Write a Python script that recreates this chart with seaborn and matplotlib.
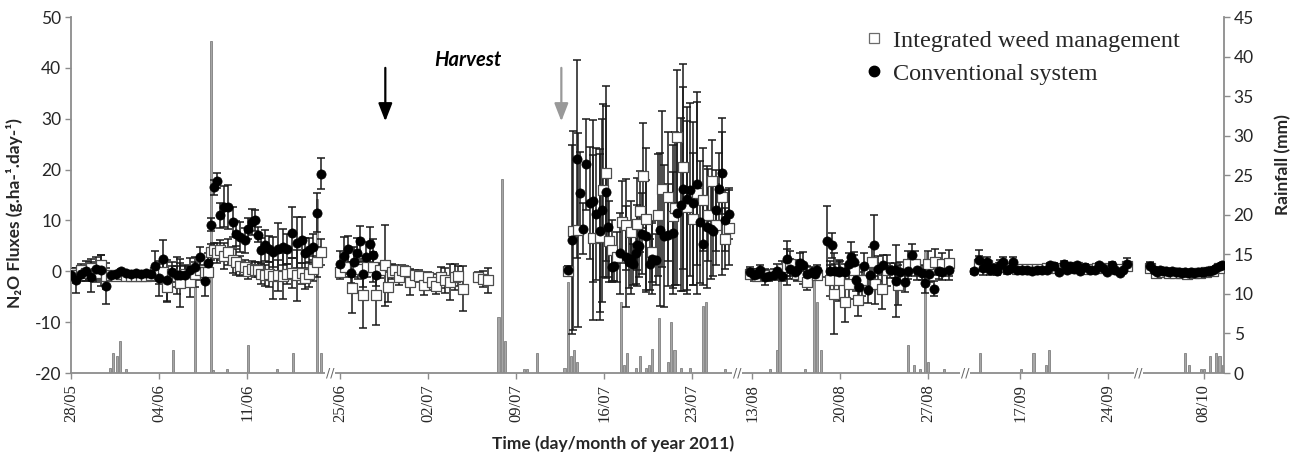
import numpy as np
import pandas as pd
import matplotlib
matplotlib.use("Agg")
import matplotlib.pyplot as plt
from matplotlib.lines import Line2D
import seaborn as sns

# ---------------- data (days are real days since 28 May 2011) ----------------
# broken time axis: first real day of each segment and its position on the axis
seg_real_start = [0.0, 27.2, 75.8, 107.6, 127.8]
seg_axis_start = [0.0, 20.6, 53.0, 71.1, 84.9]

tick_days = [0, 7, 14, 28, 35, 42, 49, 56, 77, 84, 91, 112, 119, 133]
tick_labels = ["28/05", "04/06", "11/06", "25/06", "02/07", "09/07", "16/07",
               "23/07", "13/08", "20/08", "27/08", "17/09", "24/09", "08/10"]

conv_day = [
    0.0, 0.4, 0.8, 1.2, 1.6, 2.0, 2.4, 2.8, 3.2, 3.6, 4.0, 4.4, 4.8, 5.2, 5.6, 6.0, 6.4, 6.7, 7.0, 7.3,
    7.6, 8.0, 8.4, 8.7, 9.1, 9.5, 9.9, 10.3, 10.65, 10.9, 11.1, 11.35, 11.6, 11.85, 12.2, 12.5, 12.85,
    13.1, 13.45, 13.85, 14.05, 14.4, 14.65, 14.85, 15.1, 15.45, 15.75, 16.1, 16.45, 16.85, 17.2, 17.6,
    17.95, 18.35, 18.6, 18.95, 19.25, 19.6, 19.85,
    28.0, 28.3, 28.6, 28.85, 29.1, 29.35, 29.6, 29.85, 30.1, 30.35, 30.6, 30.85,
    46.1, 46.45, 46.85, 47.1, 47.35, 47.55, 47.9, 48.1, 48.35, 48.65, 48.85, 49.15, 49.35, 49.6, 49.8,
    50.3, 50.75, 50.95, 51.15, 51.3, 51.55, 51.65, 51.8, 52.0, 52.35, 52.65, 52.8, 53.1, 53.45, 53.8,
    54.1, 54.45, 54.8, 55.1, 55.3, 55.6, 55.85, 56.05, 56.4, 56.65, 56.85, 57.2, 57.5, 57.7, 57.9,
    58.1, 58.4, 58.65, 58.9,
    76.8, 77.1, 77.35, 77.6, 78.0, 78.3, 78.7, 78.95, 79.35, 79.75, 80.0, 80.35, 80.55, 80.8, 81.05,
    81.35, 81.7, 82.0, 82.1, 82.9, 83.2, 83.3, 83.6, 83.85, 84.0, 84.4, 84.65, 84.8, 85.05, 85.2,
    85.45, 85.85, 86.2, 86.35, 86.65, 87.0, 87.4, 87.9, 88.3, 88.45, 88.75, 89.15, 89.4, 89.7, 90.1,
    90.5, 90.7, 91.05, 91.4, 91.8, 92.05, 92.6,
    108.3, 108.75, 109.0, 109.35, 109.6, 109.85, 110.15, 110.35, 110.65, 110.95, 111.25, 111.45,
    111.75, 112.15, 112.5, 112.9, 113.3, 113.7, 114.1, 114.4, 114.7, 115.05, 115.45, 115.7, 115.95,
    116.25, 116.5, 116.75, 117.15, 117.55, 117.95, 118.3, 118.55, 118.9, 119.3, 119.55, 119.9, 120.2,
    120.5,
    128.7, 129.0, 129.25, 129.5, 129.75, 130.0, 130.25, 130.5, 130.75, 131.0, 131.25, 131.5, 131.75,
    132.0, 132.25, 132.5, 132.75, 133.0, 133.25, 133.5, 133.75, 134.0, 134.25, 134.45,
]
conv_flux = [
    -0.8, -1.8, -0.5, 0.1, -1.1, 0.4, 0.2, -2.9, -0.8, -0.5, 0.1, -0.3, -0.5, -0.4, -0.5, -0.4, -0.6,
    1.0, -1.4, 2.5, -1.8, -0.1, -0.8, -0.8, -0.8, 0.2, 0.8, 2.8, -1.9, 1.6, 9.2, 16.5, 17.8, 11.0,
    12.7, 12.6, 9.7, 7.4, 6.7, 6.1, 8.4, 9.7, 10.0, 7.2, 4.1, 5.1, 4.4, 3.8, 4.4, 4.8, 4.4, 7.6, 5.6,
    6.1, 3.5, 4.1, 4.8, 11.5, 19.2,
    1.5, 3.1, 4.4, -0.3, 1.8, 3.5, 6.0, -0.5, 2.8, 5.3, 3.3, -0.8,
    0.2, 6.2, 22.1, 15.4, 8.4, 21.0, 13.5, 13.8, 11.2, 8.0, 12.0, 15.6, 8.8, 0.8, 1.0, 3.5, 2.9, 1.8,
    2.5, 1.4, 3.5, 5.1, 4.9, 7.4, 6.9, 1.4, 2.5, 2.3, 8.2, 6.9, 7.2, 7.5, 11.4, 13.1, 16.2, 14.3,
    16.0, 13.4, 17.2, 9.7, 5.4, 8.7, 8.4, 8.0, 12.0, 16.2, 19.3, 10.0, 11.3,
    -0.1, -0.8, -0.5, 0.3, -1.1, -0.9, -0.7, 0.0, -0.9, 2.5, 0.5, -0.1, 0.2, 1.6, 1.2, -0.5, -0.1,
    -0.5, 0.2, 5.9, 0.0, 5.1, 0.0, -0.1, 0.0, -0.1, 1.5, 2.8, 1.8, -1.8, -3.1, 1.0, -3.7, -0.8, 5.1,
    0.5, 1.2, 0.2, 0.2, -1.9, -0.1, -2.1, 0.0, 3.3, 0.2, -0.3, -2.3, -0.6, -3.4, 0.0, -0.2, 0.3,
    0.0, 2.2, 0.7, 1.8, 0.3, 0.7, 0.1, 1.3, 1.8, 0.3, 0.7, 1.8, 0.2, 0.3, 0.2, 0.1, 0.2, 0.3, 0.3,
    1.2, 1.1, -0.1, 1.5, 0.3, 1.0, 0.5, 1.2, 0.1, 0.9, 0.2, 0.3, 1.2, 0.7, -0.1, 1.2, 0.3, -0.3, 0.2,
    1.5,
    1.0, 0.3, -0.1, 0.2, 0.0, 0.1, -0.1, 0.0, -0.2, -0.1, -0.3, -0.2, -0.3, -0.2, -0.3, -0.2, -0.1,
    -0.2, 0.0, 0.1, 0.3, 0.6, 1.0, 1.2,
]
conv_err = [
    1.2, 2.5, 1.5, 2.0, 3.0, 2.5, 3.0, 3.5, 0.5, 0.4, 0.3, 0.3, 0.3, 0.3, 0.3, 0.3, 0.4, 3.0, 3.5,
    3.6, 4.0, 2.0, 3.7, 2.5, 2.0, 2.5, 2.0, 2.0, 3.0, 2.0, 1.2, 1.5, 1.5, 2.5, 4.0, 4.3, 3.0, 2.5,
    3.0, 2.5, 2.0, 2.5, 2.0, 1.5, 2.5, 3.0, 2.5, 3.0, 5.0, 3.5, 3.0, 5.0, 5.0, 4.5, 3.0, 2.5, 2.5,
    3.8, 3.0,
    2.5, 3.6, 2.5, 2.0, 3.0, 3.0, 3.0, 2.5, 3.0, 3.5, 3.0, 2.0,
    0.8, 18.6, 19.4, 8.0, 5.0, 9.0, 11.0, 16.0, 13.0, 16.0, 18.0, 17.0, 10.0, 3.0, 3.0, 8.0, 10.0,
    5.0, 7.0, 4.0, 6.0, 8.0, 6.0, 8.0, 11.0, 5.0, 7.0, 5.0, 15.0, 14.0, 10.0, 12.0, 14.0, 17.0, 20.0,
    18.0, 17.0, 16.0, 16.0, 12.0, 8.0, 12.0, 10.0, 9.0, 8.0, 7.0, 8.0, 6.0, 5.0,
    1.0, 1.2, 1.0, 1.0, 1.5, 1.0, 1.0, 1.5, 1.0, 3.5, 2.0, 1.5, 2.0, 2.0, 2.5, 1.5, 1.0, 1.0, 1.0,
    7.0, 2.0, 2.5, 1.5, 2.0, 2.0, 1.5, 2.0, 3.0, 2.0, 2.0, 3.0, 2.5, 2.5, 2.0, 6.0, 2.5, 2.0, 1.5,
    1.5, 7.0, 2.0, 2.0, 1.5, 2.0, 2.0, 1.5, 2.0, 1.5, 1.5, 1.5, 1.5, 2.0,
    0.5, 2.0, 1.5, 1.0, 1.0, 0.8, 0.8, 1.0, 1.0, 0.8, 0.8, 1.0, 0.5, 0.4, 0.4, 0.4, 0.4, 0.4, 0.4,
    0.5, 0.5, 0.5, 0.6, 0.5, 0.5, 0.5, 0.5, 0.5, 0.6, 0.5, 0.5, 0.5, 0.5, 0.5, 0.6, 0.5, 0.5, 0.5,
    1.2,
    0.8, 0.5, 0.5, 0.4, 0.4, 0.4, 0.3, 0.3, 0.3, 0.3, 0.3, 0.3, 0.3, 0.3, 0.3, 0.3, 0.3, 0.3, 0.3,
    0.3, 0.4, 0.4, 0.5, 0.5,
]

iwm_day = [
    0.0, 0.4, 0.8, 1.2, 1.6, 2.0, 2.4, 2.8, 3.2, 3.6, 4.0, 4.4, 4.8, 5.2, 5.6, 6.0, 6.4, 6.7, 7.0, 7.3,
    7.6, 8.0, 8.4, 8.7, 9.1, 9.5, 9.9, 10.3, 10.65, 10.9, 11.1, 11.35, 11.6, 11.85, 12.2, 12.5, 12.85,
    13.1, 13.45, 13.85, 14.05, 14.4, 14.65, 14.85, 15.1, 15.45, 15.75, 16.1, 16.45, 16.85, 17.2, 17.6,
    17.95, 18.35, 18.6, 18.95, 19.25, 19.6, 19.85,
    28.0, 28.4, 28.95, 29.45, 29.8, 30.15, 30.6, 30.85, 31.2, 31.6, 31.85, 32.1, 32.4, 32.65, 32.9,
    33.2, 33.6, 33.95, 34.25, 34.65, 35.0, 35.3, 35.65, 36.0, 36.35, 36.75, 37.15, 37.4, 37.8, 39.0,
    39.4, 39.8,
    46.1, 46.55, 46.9, 48.1, 48.65, 48.95, 49.15, 49.4, 49.6, 50.0, 50.4, 50.75, 51.15, 51.65, 51.85,
    52.1, 52.35, 52.8, 53.3, 53.6, 54.1, 54.45, 54.6, 54.8, 55.3, 55.6, 56.05, 56.4, 56.9, 57.3,
    57.55, 57.9, 58.4, 58.65, 58.9,
    76.8, 77.35, 78.0, 78.7, 79.35, 79.75, 80.0, 80.55, 81.05, 81.35, 82.1, 83.2, 83.5, 83.85, 84.4,
    84.65, 85.05, 85.4, 85.7, 86.5, 86.75, 87.3, 87.7, 88.6, 89.4, 89.95, 91.0, 91.55, 92.05, 92.6,
    108.75, 109.35, 110.35, 111.0, 111.75, 112.5, 113.3, 114.1, 114.9, 115.7, 116.5, 117.3, 118.1,
    118.9, 119.7, 120.5,
    128.7, 129.2, 129.7, 130.2, 130.7, 131.2, 131.7, 132.2, 132.7, 133.2, 133.7, 134.2,
]
iwm_flux = [
    -0.3, -0.8, 0.3, -0.4, 0.6, -0.3, 1.2, -0.9, -0.7, -0.9, -0.6, -0.9, -1.0, -1.0, -0.9, -1.0, -0.8,
    -0.2, -0.5, -0.2, -3.0, -0.5, -1.0, -2.3, -0.5, -2.1, -0.6, 0.3, -0.2, -0.2, 3.8, 4.1, 3.6, 4.2,
    3.0, 3.8, 2.2, 1.8, 1.0, 0.8, 0.0, 0.5, 0.3, 0.3, -0.5, -0.8, -0.6, -1.0, -0.8, -1.0, -0.5, -0.3,
    -0.8, -0.4, -1.4, -0.6, 0.5, 1.8, 3.8,
    -0.1, 0.8, -3.2, 0.5, -4.7, 0.8, 0.8, -4.6, 0.2, 1.2, -3.1, -0.1, 0.2, -1.1, 0.2, 0.0, -2.1, -0.8,
    -1.0, -2.7, -1.1, -2.1, -2.9, -1.2, -1.8, -2.1, -1.1, -0.9, -3.4, -1.2, -1.5, -1.8,
    0.0, 8.0, 8.1, 6.6, 6.7, 15.9, 19.3, 5.9, 4.1, 2.8, 9.7, 9.2, 7.7, 9.3, 11.8, 18.8, 10.3, 3.8,
    11.0, 16.2, 14.7, 10.8, 12.4, 26.5, 20.6, 12.6, 10.3, 15.4, 14.1, 11.1, 17.8, 9.2, 14.7, 6.4, 8.6,
    -0.5, -1.0, -0.8, -0.5, 0.5, 0.8, 1.5, -0.5, -1.0, -2.1, -0.8, -1.8, -4.4, -1.8, -6.0, -2.4, 0.2,
    -5.7, -1.8, 1.8, -2.4, -3.4, 0.2, -2.7, 1.5, 1.5, 1.5, 1.8, 1.5, 1.6,
    1.5, 1.2, 0.9, 0.6, 0.5, 0.4, 0.5, 0.6, 0.7, 0.6, 0.9, 0.5, 0.6, 0.7, 0.4, 1.0,
    0.6, -0.3, -0.2, -0.4, -0.3, -0.4, -0.5, -0.4, -0.3, -0.2, 0.0, 0.6,
]
iwm_err = [
    1.0, 1.5, 1.2, 1.5, 1.8, 1.5, 2.0, 2.5, 0.4, 0.3, 0.3, 0.3, 0.3, 0.3, 0.3, 0.3, 0.3, 1.0, 2.0,
    2.0, 3.0, 1.5, 2.0, 4.7, 1.5, 3.0, 2.5, 2.0, 1.5, 1.0, 1.5, 1.5, 2.0, 2.0, 2.5, 2.5, 2.5, 2.5,
    2.0, 1.5, 1.5, 1.5, 1.5, 1.5, 2.0, 2.0, 2.5, 4.5, 3.0, 4.5, 2.0, 3.0, 5.0, 2.0, 2.0, 2.5, 2.5,
    3.0, 2.5,
    1.5, 2.0, 5.0, 2.0, 6.5, 2.0, 3.0, 6.0, 1.5, 8.0, 3.0, 1.5, 1.0, 1.5, 1.0, 1.0, 2.5, 1.0, 1.2,
    2.0, 1.0, 1.5, 1.5, 2.0, 2.5, 3.5, 2.5, 2.0, 4.5, 1.0, 1.5, 2.5,
    1.0, 19.5, 19.0, 16.2, 16.3, 17.0, 17.2, 8.0, 6.0, 5.0, 8.1, 9.0, 6.2, 9.0, 8.0, 10.3, 14.0, 6.0,
    12.0, 15.4, 12.6, 14.0, 15.0, 13.0, 20.1, 17.0, 13.0, 19.9, 10.2, 9.0, 8.0, 8.0, 15.4, 6.0, 7.3,
    1.0, 1.0, 1.0, 1.0, 1.5, 3.5, 2.5, 1.5, 1.5, 1.5, 1.0, 3.0, 8.0, 4.0, 4.0, 3.0, 3.0, 3.0, 3.0,
    3.0, 4.0, 4.0, 3.0, 4.0, 2.5, 2.5, 2.5, 2.5, 2.0, 2.5,
    1.5, 1.0, 0.8, 0.6, 0.4, 0.4, 0.4, 0.4, 0.5, 0.5, 0.5, 0.4, 0.5, 0.5, 0.5, 0.8,
    1.0, 0.5, 0.4, 0.4, 0.4, 0.3, 0.3, 0.3, 0.3, 0.3, 0.4, 0.5,
]

rain_day = [
    3.1, 3.37, 3.63, 3.9, 4.38, 8.09, 9.86, 11.11, 11.32, 12.39, 14.1, 16.36, 17.64, 19.6, 19.86,
    40.6, 40.85, 41.15, 42.6, 42.85, 43.65, 45.85, 46.1, 46.35, 46.6, 46.85, 50.35, 50.6, 50.85,
    51.55, 51.85, 52.35, 52.55, 52.8, 53.35, 54.1, 54.35, 54.6, 55.15, 55.85, 56.85, 57.1, 58.65,
    78.4, 78.95, 79.15, 81.2, 81.9, 82.15, 82.45, 89.4, 89.85, 90.35, 90.7, 90.95, 92.2,
    108.8, 112.05, 113.05, 114.05, 114.3,
    131.5, 131.8, 132.75, 133.0, 133.5, 134.0, 134.25, 134.5,
]
rain_mm = [
    0.6, 2.5, 2.1, 4.0, 0.5, 2.9, 13.0, 42.0, 0.4, 0.5, 3.5, 0.5, 2.5, 22.0, 2.5,
    7.1, 24.5, 4.0, 0.5, 0.5, 2.5, 0.6, 11.5, 2.1, 2.9, 1.4, 9.0, 1.0, 2.5,
    0.6, 2.1, 0.6, 1.0, 3.0, 7.0, 1.4, 6.5, 2.9, 0.6, 0.6, 8.5, 9.0, 0.5,
    0.5, 2.9, 12.4, 0.5, 12.6, 9.0, 2.9, 3.5, 1.0, 0.5, 15.3, 1.4, 0.5,
    2.5, 0.5, 2.5, 1.0, 2.9,
    2.5, 1.0, 0.5, 0.5, 2.1, 2.5, 2.1, 1.0,
]

harvest_days = [31.6, 45.6]          # arrows (black, grey)
harvest_label_day = 38.2


def to_axis(days):
    d = np.asarray(days, dtype=float)
    out = np.empty_like(d)
    for rs, a0 in zip(seg_real_start, seg_axis_start):
        m = d >= rs
        out[m] = a0 + d[m] - rs
    return out


conv = pd.DataFrame({"x": to_axis(conv_day), "flux": conv_flux, "err": conv_err})
iwm = pd.DataFrame({"x": to_axis(iwm_day), "flux": iwm_flux, "err": iwm_err})
rain = pd.DataFrame({"x": to_axis(rain_day), "mm": rain_mm})

# ---------------- style ----------------
sns.set_theme(style="white")
plt.rcParams["font.family"] = ["Lato", "DejaVu Sans"]
plt.rcParams["axes.unicode_minus"] = False
axis_grey = "#8c8c8c"
text_col = "#262626"

fig = plt.figure(figsize=(12.93, 4.55), dpi=100)
ax = fig.add_axes([0.0549, 0.1802, 0.8917, 0.7824])
ax2 = ax.twinx()
ax.set_zorder(ax2.get_zorder() + 1)
ax.patch.set_visible(False)

# rainfall bars (right axis)
ax2.bar(rain["x"], rain["mm"], width=0.17, color="#a6a6a6", edgecolor="#7f7f7f",
        linewidth=0.6, zorder=1)
ax2.set_ylim(0, 45)
ax2.set_yticks(range(0, 50, 5))

# error bars
ax.errorbar(iwm["x"], iwm["flux"], yerr=iwm["err"], fmt="none", ecolor="#1a1a1a",
            elinewidth=1.1, capsize=2.8, capthick=1.1, zorder=2)
ax.errorbar(conv["x"], conv["flux"], yerr=conv["err"], fmt="none", ecolor="#1a1a1a",
            elinewidth=1.1, capsize=2.8, capthick=1.1, zorder=2)

# markers
sns.scatterplot(data=iwm, x="x", y="flux", marker="s", color="white", edgecolor="#4d4d4d",
                linewidth=0.9, s=44, ax=ax, zorder=3, legend=False)
sns.scatterplot(data=conv, x="x", y="flux", marker="o", color="black", edgecolor="black",
                linewidth=0.5, s=44, ax=ax, zorder=4, legend=False)

ax.set_xlim(0, 91.7)
ax.set_ylim(-20, 50)
ax.set_yticks(range(-20, 60, 10))
ax.set_xticks(to_axis(tick_days))
ax.set_xticklabels(tick_labels, rotation=90, family="Liberation Serif", fontsize=12,
                   color=text_col)

for a in (ax, ax2):
    a.spines["top"].set_visible(False)
    for side in ("left", "right", "bottom"):
        a.spines[side].set_color(axis_grey)
        a.spines[side].set_linewidth(1.3)
ax.spines["right"].set_visible(False)
ax2.spines["left"].set_visible(False)
ax2.spines["bottom"].set_visible(False)

ax.tick_params(axis="y", which="major", direction="out", length=4, width=1.0,
               color=axis_grey, labelsize=12.5, labelcolor=text_col, pad=3, left=True)
ax.tick_params(axis="x", which="major", direction="out", length=4, width=1.0,
               color=axis_grey, pad=4, bottom=True)
ax2.tick_params(axis="y", which="major", direction="out", length=4, width=1.0,
                color=axis_grey, labelsize=12.5, labelcolor=text_col, pad=3, right=True)

ax.set_ylabel("N₂O Fluxes (g.ha-¹.day-¹)", fontsize=12.5, fontweight="bold",
              color=text_col, family=["Lato", "DejaVu Sans"])
ax2.set_ylabel("Rainfall (mm)", fontsize=12.5, fontweight="bold", color=text_col)
ax.set_xlabel("Time (day/month of year 2011)", fontsize=12.5, fontweight="bold",
              color=text_col)
ax.yaxis.set_label_coords(-0.042, 0.45)
ax2.yaxis.set_label_coords(1.044, 0.585)
ax.xaxis.set_label_coords(0.47, -0.175)

# axis breaks "//"
for b in seg_axis_start[1:]:
    ax.text(b, 0.0, "//", transform=ax.get_xaxis_transform(), ha="center", va="center",
            fontsize=9, color="#666666", family="DejaVu Sans", zorder=6, clip_on=False,
            bbox=dict(boxstyle="square,pad=0.05", fc="white", ec="none"))

# harvest arrows and label
hx = to_axis(harvest_days)
for xx, col in zip(hx, ["black", "#999999"]):
    ax.annotate("", xy=(xx, 29.5), xytext=(xx, 40.0),
                arrowprops=dict(arrowstyle="-|>,head_length=0.9,head_width=0.35",
                                color=col, lw=1.6, shrinkA=0, shrinkB=0))
ax.text(to_axis([harvest_label_day])[0], 41.5, "Harvest", fontsize=14.5, fontweight="bold",
        fontstyle="italic", ha="center", va="center", color="black")

# legend
handles = [
    Line2D([], [], linestyle="none", marker="s", markersize=7.5, markerfacecolor="white",
           markeredgecolor="#6b6b6b", markeredgewidth=0.9),
    Line2D([], [], linestyle="none", marker="o", markersize=7.5, markerfacecolor="black",
           markeredgecolor="black"),
]
ax.legend(handles, ["Integrated weed management", "Conventional system"],
          loc="upper left", bbox_to_anchor=(0.672, 1.005), frameon=False,
          prop={"family": "Liberation Serif", "size": 17.5}, handletextpad=0.25,
          labelspacing=0.45, handlelength=1.1, borderaxespad=0.2)

fig.savefig("out.png", dpi=100)
